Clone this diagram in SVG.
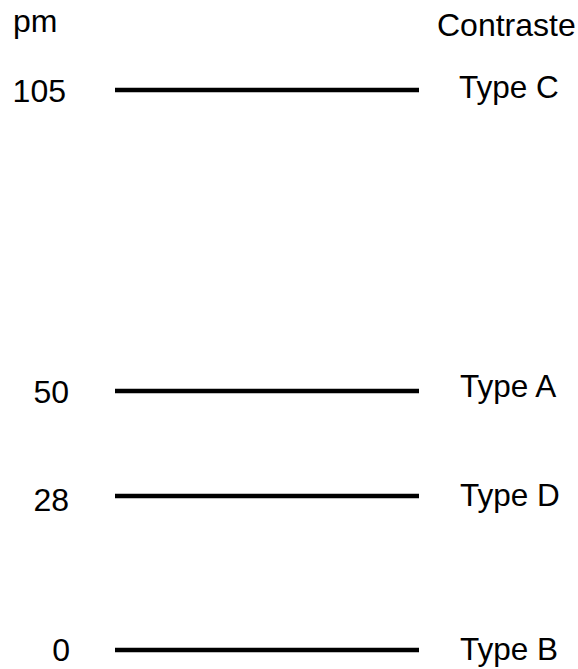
<svg xmlns="http://www.w3.org/2000/svg" width="578" height="669" viewBox="0 0 578 669">
<style>
text{font-family:"Liberation Sans",Arial,sans-serif;font-size:31.5px;fill:#000}
.num{text-anchor:end;font-size:32px}
.hdr{font-size:32px}
.lvl{stroke:#000;stroke-width:4.5;fill:none}
</style>
<rect width="578" height="669" fill="#fff"/>
<g id="headers">
<text class="hdr" x="13" y="32">pm</text>
<text class="hdr" x="437" y="36">Contraste</text>
</g>
<g id="connectors">
<line class="lvl" x1="115" y1="90" x2="419" y2="90"/>
<line class="lvl" x1="115" y1="391" x2="419" y2="391"/>
<line class="lvl" x1="115" y1="496" x2="419" y2="496"/>
<line class="lvl" x1="115" y1="650" x2="419" y2="650"/>
</g>
<g id="typeC"><text class="num" x="66" y="102">105</text><text x="459" y="98">Type C</text></g>
<g id="typeA"><text class="num" x="69" y="403">50</text><text x="460" y="397">Type A</text></g>
<g id="typeD"><text class="num" x="69" y="511">28</text><text x="460" y="506">Type D</text></g>
<g id="typeB"><text class="num" x="70" y="661">0</text><text x="460" y="660">Type B</text></g>
</svg>
